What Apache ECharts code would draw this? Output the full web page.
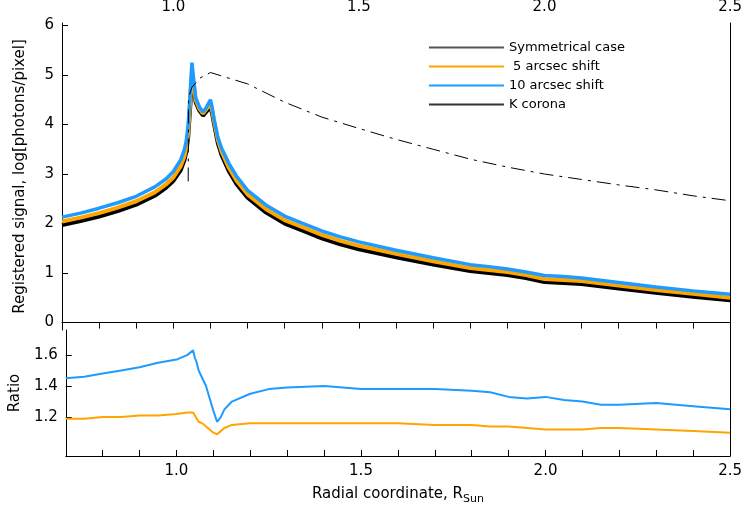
<!DOCTYPE html>
<html>
<head>
<meta charset="utf-8">
<script src="https://cdn.jsdelivr.net/npm/echarts@6/dist/echarts.min.js"></script>
<style>body{margin:0;background:#fff}#chart{width:745px;height:506px}</style>
</head>
<body>
<div id="chart"></div>
<script>
// radial coordinate samples (R_Sun)
var radius = [0.70,0.75,0.80,0.85,0.90,0.95,0.98,1.00,1.02,1.03,1.035,1.04,1.045,1.05,1.055,1.06,1.07,1.08,1.09,1.10,1.105,1.11,1.12,1.13,1.15,1.17,1.20,1.25,1.30,1.35,1.40,1.45,1.50,1.60,1.70,1.80,1.85,1.90,1.95,2.00,2.05,2.10,2.20,2.30,2.40,2.50]
// log signal
var symmetrical = [1.97,2.05,2.14,2.25,2.38,2.56,2.72,2.86,3.08,3.28,3.45,3.75,4.30,4.92,4.75,4.45,4.28,4.18,4.27,4.36,4.20,4.00,3.62,3.38,3.05,2.80,2.52,2.22,2.00,1.85,1.70,1.58,1.48,1.32,1.17,1.04,1.00,0.96,0.90,0.82,0.80,0.78,0.69,0.60,0.52,0.45]
var shift5 = [2.04,2.12,2.21,2.32,2.45,2.63,2.79,2.93,3.16,3.36,3.54,3.85,4.42,5.05,4.82,4.50,4.32,4.22,4.32,4.42,4.26,4.06,3.69,3.45,3.12,2.87,2.59,2.29,2.07,1.92,1.77,1.65,1.55,1.39,1.24,1.10,1.06,1.02,0.96,0.88,0.86,0.84,0.75,0.66,0.58,0.50]
var shift10 = [2.13,2.21,2.31,2.42,2.55,2.74,2.90,3.05,3.29,3.50,3.68,4.00,4.60,5.25,4.90,4.55,4.36,4.25,4.36,4.50,4.33,4.10,3.74,3.52,3.21,2.96,2.67,2.37,2.15,2.00,1.85,1.73,1.63,1.46,1.31,1.17,1.13,1.08,1.02,0.95,0.93,0.90,0.81,0.72,0.64,0.57]
var coronaX = [1.04,1.041,1.05,1.07,1.10,1.20,1.30,1.40,1.50,1.60,1.70,1.80,1.90,2.00,2.10,2.20,2.30,2.40,2.50]
var corona = [2.85,4.55,4.75,4.93,5.05,4.82,4.45,4.15,3.92,3.70,3.50,3.30,3.14,3.00,2.89,2.78,2.68,2.56,2.46]
// ratios
var ratioX = [0.70,0.75,0.80,0.85,0.90,0.95,1.00,1.03,1.045,1.05,1.055,1.06,1.07,1.08,1.09,1.10,1.11,1.12,1.13,1.15,1.20,1.25,1.30,1.40,1.50,1.60,1.70,1.80,1.85,1.90,1.95,2.00,2.05,2.10,2.15,2.20,2.30,2.40,2.50]
var ratio10 = [1.45,1.46,1.48,1.50,1.52,1.55,1.57,1.60,1.63,1.58,1.55,1.50,1.45,1.40,1.32,1.24,1.17,1.20,1.25,1.30,1.35,1.38,1.39,1.40,1.38,1.38,1.38,1.37,1.36,1.33,1.32,1.33,1.31,1.30,1.28,1.28,1.29,1.27,1.25]
var ratio5 = [1.19,1.19,1.20,1.20,1.21,1.21,1.22,1.23,1.23,1.21,1.19,1.17,1.16,1.14,1.12,1.10,1.09,1.11,1.13,1.15,1.16,1.16,1.16,1.16,1.16,1.16,1.15,1.15,1.14,1.14,1.13,1.12,1.12,1.12,1.13,1.13,1.12,1.11,1.10]
// tick labels
var xTicks = [1.0, 1.5, 2.0, 2.5]
var xMinorTicks = [0.8, 0.9, 1.0, 1.1, 1.2, 1.3, 1.4, 1.5, 1.6, 1.7, 1.8, 1.9, 2.0, 2.1, 2.2, 2.3, 2.4]
var signalTicks = [0, 1, 2, 3, 4, 5, 6]
var ratioTicks = [1.2, 1.4, 1.6]

function pairs(xs, ys) { return xs.map(function (x, i) { return [x, ys[i]] }) }

var font = 'DejaVu Sans'
var axisText = { color: '#000', fontFamily: font, fontSize: 15 }
var line = { lineStyle: { color: '#000' } }
var tick = { inside: true, length: 6, lineStyle: { color: '#000' } }

function xAxisFor(grid, pos) {
  return { gridIndex: grid, type: 'value', min: 0.7, max: 2.5, position: pos,
    axisLine: line,
    axisTick: Object.assign({ customValues: xMinorTicks }, tick),
    axisLabel: Object.assign({ customValues: xTicks, formatter: function (v) { return v.toFixed(1) } }, axisText),
    splitLine: { show: false } }
}

var myChart = echarts.init(document.getElementById('chart'))
myChart.setOption({
  animation: false,
  grid: [
    { left: 62, right: 13, top: 14, height: 316 },
    { left: 62, right: 13, top: 330, height: 130 }
  ],
  legend: {
    right: 115, top: 36, orient: 'vertical', itemWidth: 75, itemHeight: 2, itemGap: 6,
    icon: 'rect',
    textStyle: { fontFamily: font, fontSize: 13, color: '#000' },
    data: ['Symmetrical case', ' 5 arcsec shift', '10 arcsec shift', 'K corona']
  },
  xAxis: [
    xAxisFor(0, 'top'),
    Object.assign(xAxisFor(1, 'bottom'), {
      name: '{a|Radial coordinate, R}{b|Sun}', nameLocation: 'middle', nameGap: 28,
      nameTextStyle: { rich: { a: axisText, b: { color: '#000', fontFamily: font, fontSize: 11, padding: [10, 0, 0, 0] } } } })
  ],
  yAxis: [
    { gridIndex: 0, type: 'value', min: -0.15, max: 6.05,
      axisLine: line, axisTick: Object.assign({ customValues: signalTicks }, tick),
      axisLabel: Object.assign({ customValues: signalTicks }, axisText),
      splitLine: { show: false },
      name: 'Registered signal, log[photons/pixel]', nameLocation: 'middle', nameGap: 34, nameTextStyle: axisText },
    { gridIndex: 0, type: 'value', min: -0.15, max: 6.05, position: 'right',
      axisLine: line, axisTick: { show: false }, axisLabel: { show: false }, splitLine: { show: false } },
    { gridIndex: 1, type: 'value', min: 0.95, max: 1.76,
      axisLine: line, axisTick: Object.assign({ customValues: ratioTicks }, tick),
      axisLabel: Object.assign({ customValues: ratioTicks, formatter: function (v) { return v.toFixed(1) } }, axisText),
      splitLine: { show: false },
      name: 'Ratio', nameLocation: 'middle', nameGap: 40, nameTextStyle: axisText },
    { gridIndex: 1, type: 'value', min: 0.95, max: 1.76, position: 'right',
      axisLine: line, axisTick: { show: false }, axisLabel: { show: false }, splitLine: { show: false } }
  ],
  series: [
    { name: 'Symmetrical case', type: 'line', xAxisIndex: 0, yAxisIndex: 0, showSymbol: false,
      data: pairs(radius, symmetrical), lineStyle: { color: '#000', width: 4 }, itemStyle: { color: '#555' } },
    { name: ' 5 arcsec shift', type: 'line', xAxisIndex: 0, yAxisIndex: 0, showSymbol: false,
      data: pairs(radius, shift5), lineStyle: { color: '#ffa500', width: 4 }, itemStyle: { color: '#ffa500' } },
    { name: '10 arcsec shift', type: 'line', xAxisIndex: 0, yAxisIndex: 0, showSymbol: false,
      data: pairs(radius, shift10), lineStyle: { color: '#1e9bff', width: 3.5 }, itemStyle: { color: '#1e9bff' } },
    { name: 'K corona', type: 'line', xAxisIndex: 0, yAxisIndex: 0, showSymbol: false,
      data: pairs(coronaX, corona), lineStyle: { color: '#000', width: 1, type: [14, 6, 3, 6] }, itemStyle: { color: '#333' } },
    { name: 'ratio10', type: 'line', xAxisIndex: 1, yAxisIndex: 2, showSymbol: false,
      data: pairs(ratioX, ratio10), lineStyle: { color: '#1e9bff', width: 2 } },
    { name: 'ratio5', type: 'line', xAxisIndex: 1, yAxisIndex: 2, showSymbol: false,
      data: pairs(ratioX, ratio5), lineStyle: { color: '#ffa500', width: 2 } }
  ]
})
</script>
</body>
</html>
